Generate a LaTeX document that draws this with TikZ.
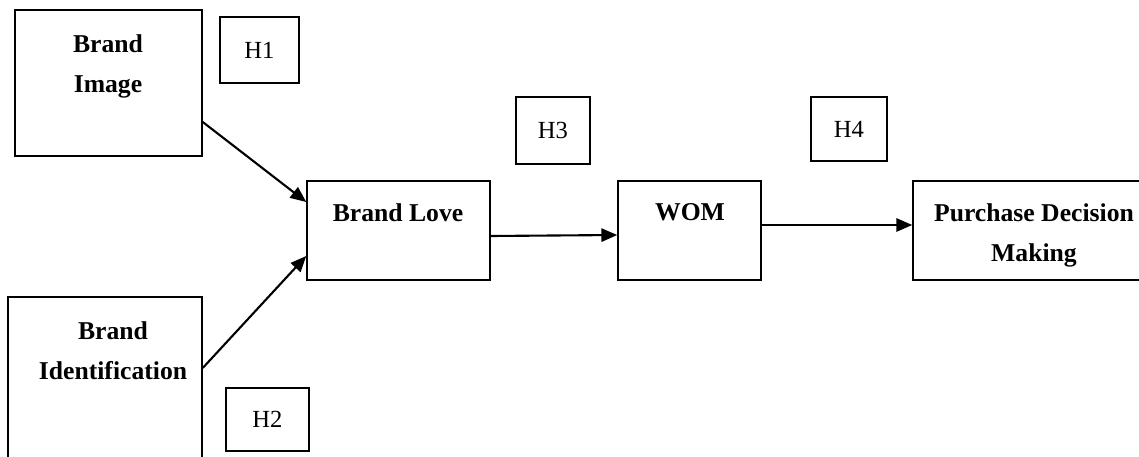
\documentclass[tikz,border=0pt]{standalone}
\usepackage{fontspec}
\setmainfont{Liberation Serif}
\usetikzlibrary{arrows.meta}
\begin{document}
\begin{tikzpicture}[
        box/.style = {draw, line width = 0.85pt, inner sep = 0pt},
        hyp/.style = {draw, line width = 0.85pt, inner sep = 0pt, font = \fontsize{14}{17}\selectfont},
        lbl/.style = {anchor = north, inner sep = 0pt, align = center, font = \fontsize{14.6}{23}\selectfont\bfseries},
        arr/.style = {line width = 1.2pt, -{Triangle[length = 9pt, width = 7.5pt]}}]
    \useasboundingbox (0,0) rectangle (22.78,9.12);
    % variable boxes
    \node[box, minimum width = 3.74cm, minimum height = 2.92cm] (bimg) at (2.17,7.46) {};
    \node[box, minimum width = 3.88cm, minimum height = 3.26cm] (bid) at (2.10,1.55) {};
    \node[box, minimum width = 3.66cm, minimum height = 1.98cm] (blove) at (7.97,4.51) {};
    \node[box, minimum width = 2.86cm, minimum height = 1.98cm] (wom) at (13.79,4.51) {};
    \node[box, minimum width = 4.80cm, minimum height = 1.98cm] (pdm) at (20.66,4.51) {};
    \node[lbl] (bimgtxt) at (2.16,8.44) {Brand\\Image};
    \node[lbl] (bidtxt) at (2.26,2.70) {Brand\\Identification};
    \node[lbl] (blovetxt) at (7.96,5.06) {Brand Love};
    \node[lbl] (womtxt) at (13.80,5.06) {WOM};
    \node[lbl] (pdmtxt) at (20.68,5.06) {Purchase Decision\\Making};
    % hypotheses
    \node[hyp, minimum width = 1.58cm, minimum height = 1.32cm] (h1) at (5.19,8.12) {H1};
    \node[hyp, minimum width = 1.66cm, minimum height = 1.26cm] (h2) at (5.35,0.73) {H2};
    \node[hyp, minimum width = 1.48cm, minimum height = 1.34cm] (h3) at (11.06,6.51) {H3};
    \node[hyp, minimum width = 1.52cm, minimum height = 1.28cm] (h4) at (16.98,6.54) {H4};
    % paths
    \draw[arr] ([yshift = -0.78cm]bimg.east) -- ([yshift = 0.57cm]blove.west);
    \draw[arr] ([yshift = 0.21cm]bid.east) -- ([yshift = -0.51cm]blove.west);
    \draw[arr] ([yshift = -0.11cm]blove.east) -- ([yshift = -0.09cm]wom.west);
    \draw[arr] ([yshift = 0.11cm]wom.east) -- ([yshift = 0.11cm]pdm.west);
\end{tikzpicture}
\end{document}
